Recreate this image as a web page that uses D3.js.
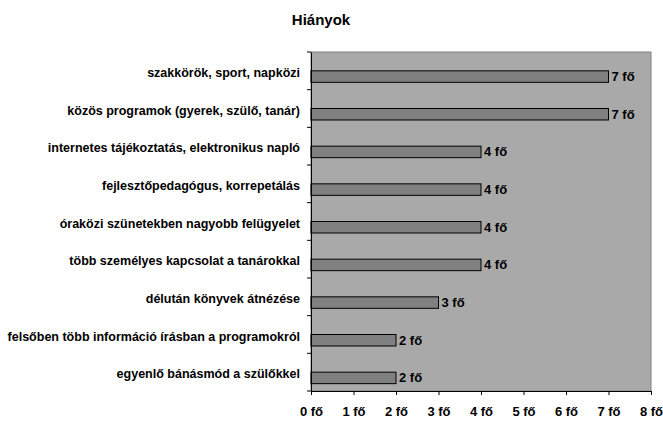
<!DOCTYPE html>
<html>
<head>
<meta charset="utf-8">
<script src="https://cdn.jsdelivr.net/npm/d3@7"></script>
<style>
  body { margin: 0; background: #fff; }
  text { font-family: "Liberation Sans", Arial, sans-serif; font-weight: bold; }
</style>
</head>
<body>
<div id="chart"></div>
<script>
// data
var categories = [
  "szakkörök, sport, napközi",
  "közös programok (gyerek, szülő, tanár)",
  "internetes tájékoztatás, elektronikus napló",
  "fejlesztőpedagógus, korrepetálás",
  "óraközi szünetekben nagyobb felügyelet",
  "több személyes kapcsolat a tanárokkal",
  "délután könyvek átnézése",
  "felsőben több információ írásban a programokról",
  "egyenlő bánásmód a szülőkkel"
];
var values = [7, 7, 4, 4, 4, 4, 3, 2, 2];
var xTicks = [0, 1, 2, 3, 4, 5, 6, 7, 8];

var margin = {top: 52, right: 12, bottom: 30, left: 311};
var width = 663 - margin.left - margin.right;
var height = 421 - margin.top - margin.bottom;

var svg = d3.select("#chart").append("svg")
    .attr("width", 663)
    .attr("height", 421);

svg.append("text")
    .attr("x", 321)
    .attr("y", 25)
    .attr("text-anchor", "middle")
    .style("font-size", "15px")
    .text("Hiányok");

var g = svg.append("g")
    .attr("transform", "translate(" + margin.left + "," + margin.top + ")");

var x = d3.scaleLinear().domain([0, 8]).range([0, width]);
var y = d3.scaleBand().domain(categories).range([0, height]);
// two slots per category, the first one is empty (as in the original sheet)
var slot = d3.scaleBand().domain(["empty", "value"]).range([0, y.bandwidth()]).paddingOuter(0.64).paddingInner(0);

// plot area
g.append("rect")
    .attr("width", width)
    .attr("height", height)
    .attr("fill", "#a9a9a9")
    .attr("stroke", "#808080")
    .attr("stroke-width", 1);

g.selectAll(".bar")
    .data(values)
    .enter().append("rect")
    .attr("class", "bar")
    .attr("x", x(0))
    .attr("y", function(d, i) { return y(categories[i]) + slot("value"); })
    .attr("width", function(d) { return x(d) - x(0); })
    .attr("height", slot.bandwidth())
    .attr("fill", "#808080")
    .attr("stroke", "#000")
    .attr("stroke-width", 1);

g.selectAll(".lbl")
    .data(values)
    .enter().append("text")
    .attr("class", "lbl")
    .attr("x", function(d) { return x(d) + 3; })
    .attr("y", function(d, i) { return y(categories[i]) + slot("value") + slot.bandwidth() / 2; })
    .attr("dy", "0.35em")
    .style("font-size", "13px")
    .text(function(d) { return d + " fő"; });

// y axis
var yAxis = g.append("g")
    .call(d3.axisLeft(y).tickSize(0).tickPadding(11));
yAxis.select(".domain").attr("stroke", "#000");
yAxis.selectAll("text")
    .attr("dy", "0.5em")
    .style("font-size", "12.5px")
    .attr("fill", "#000");
// category separators
yAxis.selectAll(".sep")
    .data(categories.concat(["end"]))
    .enter().append("line")
    .attr("x1", -4).attr("x2", 0)
    .attr("y1", function(d, i) { return i * y.step(); })
    .attr("y2", function(d, i) { return i * y.step(); })
    .attr("stroke", "#000");

// x axis
var xAxis = g.append("g")
    .attr("transform", "translate(0," + height + ")")
    .call(d3.axisBottom(x).tickValues(xTicks).tickSize(4).tickSizeOuter(0).tickPadding(12)
      .tickFormat(function(d) { return d + " fő"; }));
xAxis.select(".domain").attr("stroke", "#000");
xAxis.selectAll("text")
    .style("font-size", "13px")
    .attr("fill", "#000");
</script>
</body>
</html>
